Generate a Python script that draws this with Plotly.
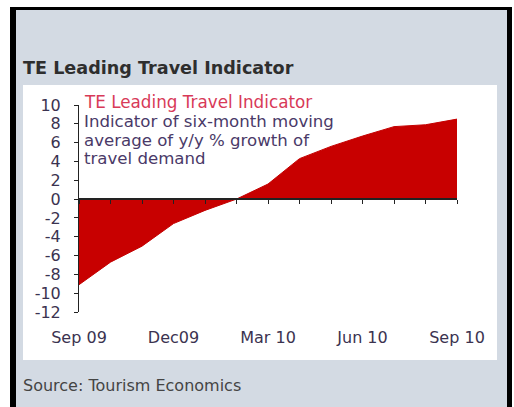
import plotly.graph_objects as go

# ---- data ----
months = ["Sep 09", "Oct 09", "Nov 09", "Dec 09", "Jan 10", "Feb 10", "Mar 10",
          "Apr 10", "May 10", "Jun 10", "Jul 10", "Aug 10", "Sep 10"]
values = [-9.1, -6.7, -5.0, -2.6, -1.2, 0.0, 1.6, 4.3, 5.6, 6.7, 7.7, 7.9, 8.5]
tick_months = ["Sep 09", "Dec 09", "Mar 10", "Jun 10", "Sep 10"]
tick_labels = ["Sep 09", "Dec09", "Mar 10", "Jun 10", "Sep 10"]
y_ticks = [10, 8, 6, 4, 2, 0, -2, -4, -6, -8, -10, -12]
y_tick_labels = ["10", "8", "6", "4", "2", "0", "-2", "-4", "-6", "-8", "-10", "-12"]
y_min, y_max = -12, 10

W, H = 514, 407
L, R, T, B = 79, 57, 105, 95
PW, PH = W - L - R, H - T - B


def fx(p):
    return (p - L) / PW


def fy(p):
    return (H - B - p) / PH


FONT = "DejaVu Sans"
TXT = "#3b3350"

idx = list(range(len(months)))
tickvals = [months.index(m) for m in tick_months]

fig = go.Figure()
fig.add_trace(go.Scatter(
    x=idx, y=values, mode="lines", fill="tozeroy",
    line=dict(color="#c40000", width=1), fillcolor="#c80000",
    hoverinfo="skip", showlegend=False))
# invisible trace to host the zero-line axis with monthly ticks
fig.add_trace(go.Scatter(
    x=idx, y=[0] * len(idx), xaxis="x2", yaxis="y", mode="lines",
    line=dict(width=0, color="rgba(0,0,0,0)"), hoverinfo="skip", showlegend=False))

shapes = [
    dict(type="rect", xref="paper", yref="paper", x0=fx(16), x1=fx(507), y0=fy(10), y1=fy(420),
         fillcolor="#d3dae3", line=dict(width=0), layer="below"),
    dict(type="rect", xref="paper", yref="paper", x0=fx(23), x1=fx(497), y0=fy(85), y1=fy(360),
         fillcolor="#ffffff", line=dict(width=0), layer="below"),
    dict(type="rect", xref="paper", yref="paper", x0=fx(10), x1=fx(16), y0=fy(7), y1=fy(420),
         fillcolor="#000000", line=dict(width=0), layer="below"),
    dict(type="rect", xref="paper", yref="paper", x0=fx(10), x1=fx(512), y0=fy(7), y1=fy(10),
         fillcolor="#000000", line=dict(width=0), layer="below"),
    dict(type="rect", xref="paper", yref="paper", x0=fx(507), x1=fx(512), y0=fy(7), y1=fy(420),
         fillcolor="#000000", line=dict(width=0), layer="below"),
]

annotations = [
    dict(text="<b>TE Leading Travel Indicator</b>", x=fx(21), y=fy(68), xref="paper", yref="paper",
         xanchor="left", yanchor="middle", showarrow=False,
         font=dict(family=FONT, size=17.6, color="#2e2e2e")),
    dict(text="TE Leading Travel Indicator", x=fx(82), y=fy(102), xref="paper", yref="paper",
         xanchor="left", yanchor="middle", showarrow=False,
         font=dict(family=FONT, size=16.8, color="#d83a58")),
    dict(text="Indicator of six-month moving", x=fx(82), y=fy(121), xref="paper", yref="paper",
         xanchor="left", yanchor="middle", showarrow=False,
         font=dict(family=FONT, size=16.6, color="#4a3a68")),
    dict(text="average of y/y % growth of", x=fx(82), y=fy(140), xref="paper", yref="paper",
         xanchor="left", yanchor="middle", showarrow=False,
         font=dict(family=FONT, size=16.6, color="#4a3a68")),
    dict(text="travel demand", x=fx(82), y=fy(158), xref="paper", yref="paper",
         xanchor="left", yanchor="middle", showarrow=False,
         font=dict(family=FONT, size=16.6, color="#4a3a68")),
    dict(text="Source: Tourism Economics", x=fx(21), y=fy(385), xref="paper", yref="paper",
         xanchor="left", yanchor="middle", showarrow=False,
         font=dict(family=FONT, size=16, color="#444444")),
]

fig.update_layout(
    width=W, height=H,
    margin=dict(l=L, r=R, t=T, b=B, pad=0),
    paper_bgcolor="#ffffff", plot_bgcolor="rgba(0,0,0,0)",
    showlegend=False,
    shapes=shapes, annotations=annotations,
    xaxis=dict(range=[0, len(months) - 1], tickvals=tickvals, ticktext=tick_labels,
               showline=False, ticks="", showgrid=False, zeroline=False,
               ticklabelstandoff=14,
               tickfont=dict(family=FONT, size=16, color=TXT), fixedrange=True),
    xaxis2=dict(range=[0, len(months) - 1], overlaying="x", anchor="free",
                position=(0 - y_min) / (y_max - y_min), side="bottom",
                tickvals=idx, showticklabels=False, ticks="outside", ticklen=4,
                tickcolor="#222222", tickwidth=1, showline=True, linecolor="#222222",
                linewidth=1.5, showgrid=False, zeroline=False),
    yaxis=dict(range=[y_min, y_max], tickvals=y_ticks, ticktext=y_tick_labels,
               ticks="outside", ticklen=4,
               tickcolor="#222222", showline=True, linecolor="#222222", linewidth=1,
               showgrid=False, zeroline=False, ticklabelstandoff=10,
               tickfont=dict(family=FONT, size=16, color=TXT)),
)

fig.write_html("out.html")
